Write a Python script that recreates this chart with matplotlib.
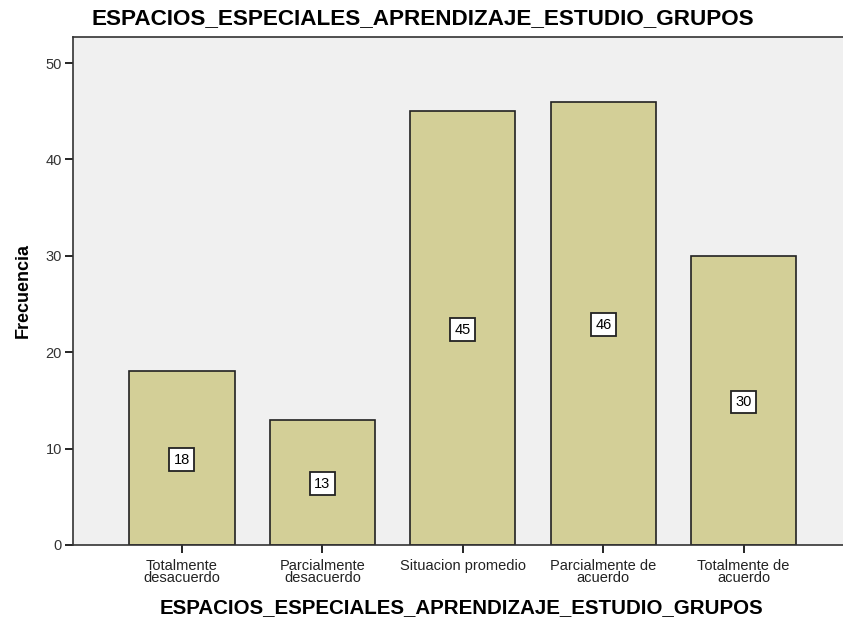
import matplotlib.pyplot as plt

plt.rcParams['font.family'] = ['Liberation Sans', 'DejaVu Sans']

# Categories and counts
categorias = ['Totalmente\ndesacuerdo', 'Parcialmente\ndesacuerdo', 'Situacion promedio',
              'Parcialmente de\nacuerdo', 'Totalmente de\nacuerdo']
frecuencias = [18, 13, 45, 46, 30]
yticks = [0, 10, 20, 30, 40, 50]

fig = plt.figure(figsize=(8.43, 6.17), dpi=100)
ax = fig.add_axes([73 / 843, 1 - 545 / 617, 776 / 843, (545 - 37) / 617])
ax.set_facecolor('#F0F0F0')

x = list(range(len(categorias)))
ax.bar(x, frecuencias, width=0.75, color='#D3CF97', edgecolor='#222222', linewidth=1.2, zorder=2)

# value labels in the middle of each bar
for xi, v in zip(x, frecuencias):
    ax.text(xi, v / 2, str(v), ha='center', va='center_baseline', fontsize=10.5, zorder=3,
            bbox=dict(boxstyle='square,pad=0.3', facecolor='white', edgecolor='#222222', linewidth=1.3))

ax.set_xlim(-0.776, 4.75)
ax.set_ylim(0, 52.7)
ax.set_yticks(yticks)
ax.set_xticks(x)
ax.set_xticklabels(categorias, fontsize=10.5, linespacing=0.85, color='#222222')
ax.tick_params(axis='y', labelsize=10.5, labelcolor='#333333', length=6, width=1.2, direction='out', pad=2)
ax.tick_params(axis='x', length=6, width=1.2, direction='out', pad=4)
for s in ax.spines.values():
    s.set_color('#333333')
    s.set_linewidth(1.2)

ax.set_ylabel('Frecuencia', fontsize=13, fontweight='bold', labelpad=10)
ax.set_xlabel('ESPACIOS_ESPECIALES_APRENDIZAJE_ESTUDIO_GRUPOS', fontsize=14.8, fontweight='bold', labelpad=9)
fig.text(0.502, 1 - 19 / 617, 'ESPACIOS_ESPECIALES_APRENDIZAJE_ESTUDIO_GRUPOS', ha='center', va='center',
         fontsize=16.2, fontweight='bold')

fig.savefig('out.png', dpi=100)
